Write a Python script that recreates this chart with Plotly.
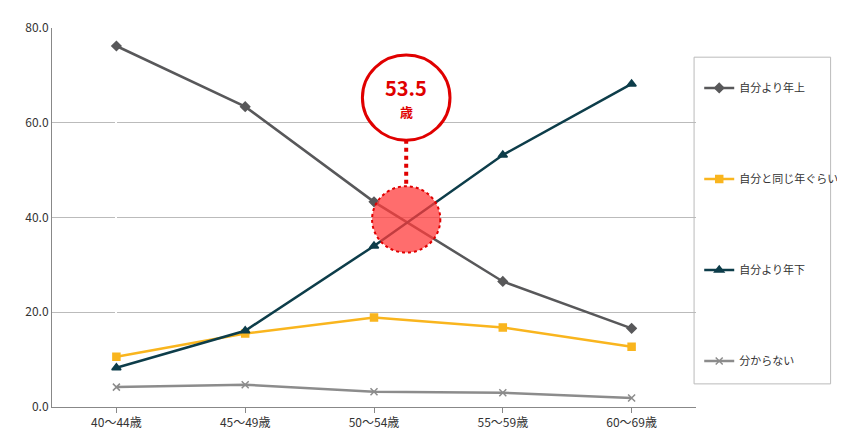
import plotly.graph_objects as go

categories = ["40～44歳", "45～49歳", "50～54歳", "55～59歳", "60～69歳"]
older = [76.2, 63.4, 43.3, 26.5, 16.6]
same_age = [10.6, 15.5, 18.9, 16.8, 12.7]
younger = [8.3, 16.1, 34.0, 53.2, 68.2]
unknown = [4.2, 4.7, 3.2, 3.0, 1.9]

series = [
    ("自分より年上", older, "#58585A", "diamond", 7),
    ("自分と同じ年ぐらい", same_age, "#F9B51E", "square", 7),
    ("自分より年下", younger, "#0D3D4A", "triangle-up", 8),
    ("分からない", unknown, "#8C8C8C", "x-thin-open", 7),
]

fig = go.Figure()
for i, (name, vals, color, sym, size) in enumerate(series):
    fig.add_trace(go.Scatter(
        x=list(range(len(categories))), y=vals, name=name, mode="lines+markers",
        line=dict(color=color, width=2.5), legendgroup=str(i),
        marker=dict(symbol=sym, size=size, color=color, line=dict(color=color, width=1.5)),
    ))

# crossover highlight
fig.add_shape(type="circle", xref="x", yref="y", x0=2.25 - 0.265, x1=2.25 + 0.265,
              y0=39.6 - 7.0, y1=39.6 + 7.0, fillcolor="rgba(255,60,60,0.75)",
              line=dict(color="#E00000", width=2, dash="dot"))
fig.add_shape(type="line", xref="x", yref="y", x0=2.25, x1=2.25, y0=56.4, y1=46.6,
              line=dict(color="#E00000", width=4, dash="dot"))
fig.add_shape(type="circle", xref="x", yref="y", x0=2.25 - 0.34, x1=2.25 + 0.34,
              y0=65.3 - 9.0, y1=65.3 + 9.0, fillcolor="white",
              line=dict(color="#E00000", width=3))
fig.add_annotation(x=2.25, y=67.5, xref="x", yref="y", text="<b>53.5</b>", showarrow=False,
                   font=dict(size=20, color="#E00000"))
fig.add_annotation(x=2.25, y=62.3, xref="x", yref="y", text="<b>歳</b>", showarrow=False,
                   font=dict(size=13, color="#E00000"))
# legend frame
fig.add_shape(type="rect", xref="paper", yref="paper", x0=0.997, x1=1.209, y0=0.061, y1=0.923,
              line=dict(color="#BBBBBB", width=1), fillcolor="rgba(0,0,0,0)")

fig.update_layout(
    width=845, height=432, plot_bgcolor="white", paper_bgcolor="white",
    margin=dict(l=44, r=141, t=10, b=30),
    font=dict(family="Noto Sans CJK JP", size=12, color="#333333"),
    showlegend=True,
    legend=dict(x=1.005, y=0.88, xanchor="left", yanchor="top", borderwidth=0,
                bgcolor="rgba(0,0,0,0)", tracegroupgap=72, traceorder="grouped",
                font=dict(size=11), itemwidth=30),
    xaxis=dict(tickmode="array", tickvals=list(range(len(categories))), ticktext=categories,
               range=[-0.5, 4.5], showgrid=False, showline=True, linecolor="#888888",
               ticks="outside", ticklen=5, tickcolor="#888888"),
    yaxis=dict(range=[0, 80], dtick=20, tickformat=".1f", showgrid=True, gridcolor="#BBBBBB",
               showline=True, linecolor="#888888", zeroline=False),
)

fig.write_html("out.html")
